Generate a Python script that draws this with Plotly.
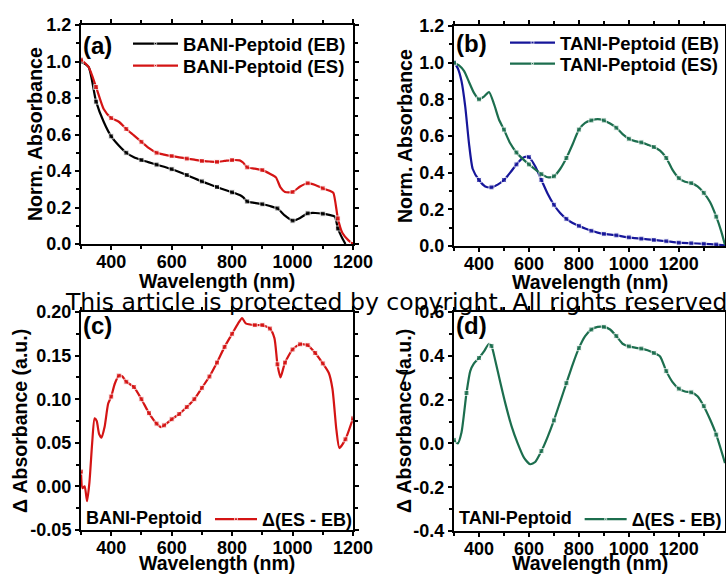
import plotly.graph_objects as go

# ---------------- data ----------------
# Panel (a): BANI-Peptoid normalized absorbance
a_eb_x = [300, 325, 350, 375, 400, 425, 450, 475, 500, 525, 550, 575, 600, 625, 650, 675, 700, 725, 750, 775,
          800, 825, 837, 850, 875, 900, 925, 950, 975, 1000, 1025, 1050, 1075, 1100, 1125, 1140, 1150, 1165, 1175]
a_eb_y = [1.00, 0.97, 0.78, 0.67, 0.59, 0.54, 0.50, 0.475, 0.46, 0.447, 0.435, 0.423, 0.41, 0.395, 0.378, 0.36,
          0.343, 0.327, 0.312, 0.297, 0.283, 0.268, 0.255, 0.233, 0.225, 0.218, 0.208, 0.195, 0.155, 0.128, 0.143,
          0.168, 0.17, 0.166, 0.158, 0.15, 0.085, 0.03, 0.0]
a_es_x = [300, 325, 350, 375, 400, 425, 450, 475, 500, 525, 550, 575, 600, 625, 650, 675, 700, 725, 750, 775,
          800, 825, 837, 850, 875, 900, 925, 945, 960, 975, 1000, 1025, 1050, 1075, 1100, 1125, 1135, 1150, 1165,
          1185, 1200]
a_es_y = [1.01, 0.97, 0.86, 0.74, 0.69, 0.67, 0.63, 0.595, 0.56, 0.525, 0.50, 0.49, 0.482, 0.475, 0.468, 0.462,
          0.455, 0.452, 0.45, 0.455, 0.46, 0.458, 0.445, 0.42, 0.413, 0.405, 0.385, 0.365, 0.31, 0.285, 0.285, 0.315,
          0.333, 0.323, 0.305, 0.29, 0.28, 0.14, 0.06, 0.02, 0.0]

# Panel (b): TANI-Peptoid normalized absorbance
b_eb_x = [300, 315, 330, 345, 360, 375, 400, 425, 450, 475, 500, 525, 550, 575, 590, 600, 625, 650, 675, 700,
          725, 750, 775, 800, 825, 850, 875, 900, 950, 1000, 1050, 1100, 1150, 1200, 1250, 1300, 1350, 1385]
b_eb_y = [1.0, 0.97, 0.9, 0.76, 0.56, 0.42, 0.36, 0.325, 0.32, 0.335, 0.36, 0.40, 0.445, 0.48, 0.487, 0.485,
          0.435, 0.36, 0.285, 0.225, 0.18, 0.148, 0.125, 0.11, 0.095, 0.083, 0.073, 0.066, 0.058, 0.047, 0.04,
          0.033, 0.026, 0.018, 0.015, 0.012, 0.008, 0.004]
b_es_x = [300, 320, 340, 360, 380, 400, 420, 440, 460, 480, 500, 525, 550, 575, 600, 625, 650, 675, 700, 725,
          750, 775, 800, 825, 850, 875, 900, 925, 950, 975, 1000, 1025, 1050, 1075, 1100, 1125, 1150, 1175, 1200,
          1225, 1250, 1275, 1300, 1325, 1350, 1370, 1385]
b_es_y = [1.0, 0.985, 0.955, 0.895, 0.835, 0.80, 0.815, 0.84, 0.775, 0.69, 0.635, 0.56, 0.51, 0.475, 0.445,
          0.418, 0.392, 0.375, 0.38, 0.42, 0.48, 0.555, 0.635, 0.672, 0.685, 0.692, 0.685, 0.668, 0.645, 0.61,
          0.585, 0.572, 0.565, 0.553, 0.54, 0.52, 0.48, 0.415, 0.37, 0.35, 0.343, 0.325, 0.29, 0.24, 0.16, 0.08,
          0.005]

# Panel (c): BANI-Peptoid difference spectrum
c_x = [300, 305, 312, 320, 328, 337, 345, 352, 360, 368, 378, 390, 400, 412, 425, 437, 450, 475, 500, 525, 550,
       565, 575, 600, 625, 650, 675, 700, 725, 750, 775, 800, 820, 833, 845, 875, 900, 925, 940, 950, 960, 975,
       1000, 1025, 1050, 1075, 1100, 1120, 1132, 1145, 1155, 1175, 1200]
c_y = [0.017, -0.002, 0.0, -0.017, 0.005, 0.05, 0.078, 0.075, 0.06, 0.056, 0.068, 0.095, 0.103, 0.118, 0.127,
       0.126, 0.12, 0.114, 0.1, 0.084, 0.072, 0.068, 0.07, 0.077, 0.083, 0.091, 0.1, 0.113, 0.126, 0.142, 0.16,
       0.175, 0.187, 0.193, 0.187, 0.185, 0.185, 0.181, 0.17, 0.14, 0.125, 0.142, 0.157, 0.163, 0.162, 0.153,
       0.141, 0.13, 0.112, 0.065, 0.044, 0.054, 0.078]

# Panel (d): TANI-Peptoid difference spectrum
d_x = [300, 315, 330, 350, 365, 380, 400, 420, 440, 450, 465, 485, 505, 530, 555, 580, 605, 625, 650, 675, 700,
       725, 750, 775, 800, 825, 850, 875, 900, 925, 950, 975, 1000, 1025, 1050, 1075, 1100, 1125, 1150, 1175,
       1200, 1225, 1250, 1275, 1300, 1325, 1350, 1385]
d_y = [0.015, 0.0, 0.05, 0.23, 0.33, 0.365, 0.39, 0.42, 0.455, 0.445, 0.38, 0.28, 0.185, 0.08, 0.0, -0.065,
       -0.095, -0.085, -0.035, 0.03, 0.105, 0.19, 0.275, 0.36, 0.435, 0.49, 0.52, 0.532, 0.532, 0.52, 0.49,
       0.455, 0.443, 0.437, 0.433, 0.425, 0.413, 0.397, 0.33, 0.28, 0.25, 0.237, 0.233, 0.215, 0.17, 0.11,
       0.04, -0.09]

x_ticks = [400, 600, 800, 1000, 1200]
x_ticklabels = ["400", "600", "800", "1000", "1200"]
ab_yticks = [0.0, 0.2, 0.4, 0.6, 0.8, 1.0, 1.2]
ab_yticklabels = ["0.0", "0.2", "0.4", "0.6", "0.8", "1.0", "1.2"]
c_yticks = [-0.05, 0.0, 0.05, 0.10, 0.15, 0.20]
c_yticklabels = ["-0.05", "0.00", "0.05", "0.10", "0.15", "0.20"]
d_yticks = [-0.4, -0.2, 0.0, 0.2, 0.4, 0.6]
d_yticklabels = ["-0.4", "-0.2", "0.0", "0.2", "0.4", "0.6"]

# ---------------- styling helpers ----------------
FW, H = 760, 576          # figure canvas (right part beyond the 726-px window is clipped, as in the source)
FONT = "Liberation Sans"
BLACK = "#000000"
RED = "#d41414"
BLUE = "#16169a"
GREEN = "#1c6e4e"


def fx(px):
    return px / FW


def fy(py):
    return 1 - py / H


def dx(l, r):
    return [fx(l), fx(r)]


def dy(top, bottom):
    return [fy(bottom), fy(top)]


def msizes(xs, step):
    return [5 if (x % step == 0) else 0 for x in xs]


fig = go.Figure()


def add(xs, ys, name, color, xa, ya, leg, step):
    fig.add_trace(go.Scatter(
        x=xs, y=ys, name=name, mode="lines+markers",
        line=dict(color=color, width=2.2, shape="spline", smoothing=0.6),
        marker=dict(symbol="square", size=msizes(xs, step), color=color),
        xaxis=xa, yaxis=ya, legend=leg, showlegend=True))


add(a_eb_x, a_eb_y, "BANI-Peptoid (EB)", BLACK, "x", "y", "legend", 50)
add(a_es_x, a_es_y, "BANI-Peptoid (ES)", RED, "x", "y", "legend5", 50)
add(b_eb_x, b_eb_y, "TANI-Peptoid (EB)", BLUE, "x2", "y2", "legend2", 50)
add(b_es_x, b_es_y, "TANI-Peptoid (ES)", GREEN, "x2", "y2", "legend6", 50)
add(c_x, c_y, "Δ(ES - EB)", RED, "x3", "y3", "legend3", 25)
add(d_x, d_y, "Δ(ES - EB)", GREEN, "x4", "y4", "legend4", 50)

tickfont = dict(family=FONT, size=18, color="black", weight="bold")
titlefont = dict(family=FONT, size=19.5, color="black", weight="bold")


def xaxis(dom, rng, anchor):
    return dict(domain=dom, range=rng, anchor=anchor, showgrid=False, zeroline=False, automargin=False,
                showline=True, linecolor="black", linewidth=2, mirror="allticks",
                ticks="outside", ticklen=4, tickwidth=2, tickcolor="black",
                tickvals=x_ticks, ticktext=x_ticklabels, tickfont=tickfont, ticklabelstandoff=-4,
                minor=dict(dtick=100, tick0=300, ticks="outside", ticklen=3, tickwidth=1.5, tickcolor="black"))


def yaxis(dom, rng, anchor, tv, tt, minor_dt):
    return dict(domain=dom, range=rng, anchor=anchor, showgrid=False, zeroline=False, automargin=False,
                showline=True, linecolor="black", linewidth=2, mirror="allticks",
                ticks="outside", ticklen=4, tickwidth=2, tickcolor="black",
                tickvals=tv, ticktext=tt, tickfont=tickfont,
                minor=dict(dtick=minor_dt, tick0=0, ticks="outside", ticklen=3, tickwidth=1.5, tickcolor="black"))


legfont = dict(family=FONT, size=18.5, color="black", weight="bold")
legfont2 = dict(family=FONT, size=18, color="black", weight="bold")


def leg(xp, top, font, iw=45, title=None):
    d = dict(x=fx(xp), y=fy(top), xanchor="left", yanchor="top", bgcolor="rgba(0,0,0,0)",
             font=font, itemwidth=iw, orientation="h")
    if title:
        d["title"] = dict(text=title, side="left", font=font)
    return d


fig.update_layout(
    width=FW, height=H, margin=dict(l=0, r=0, t=0, b=0, autoexpand=False),
    paper_bgcolor="white", plot_bgcolor="white",
    font=dict(family=FONT, color="black"),
    xaxis=xaxis(dx(81, 353), [300, 1200], "y"),
    yaxis=yaxis(dy(25, 244), [0, 1.2], "x", ab_yticks, ab_yticklabels, 0.1),
    xaxis2=xaxis(dx(454, 725), [300, 1385], "y2"),
    yaxis2=yaxis(dy(26, 246), [0, 1.2], "x2", ab_yticks, ab_yticklabels, 0.1),
    xaxis3=xaxis(dx(81, 353), [300, 1200], "y3"),
    yaxis3=yaxis(dy(312, 530), [-0.05, 0.2], "x3", c_yticks, c_yticklabels, 0.025),
    xaxis4=xaxis(dx(454, 725), [300, 1385], "y4"),
    yaxis4=yaxis(dy(312, 531), [-0.4, 0.6], "x4", d_yticks, d_yticklabels, 0.1),
    legend=leg(128, 25, legfont),
    legend5=leg(128, 47, legfont),
    legend2=leg(505, 24, legfont),
    legend6=leg(505, 45, legfont),
    legend3=leg(84, 501, legfont2, iw=42, title="BANI-Peptoid"),
    legend4=leg(457, 501, legfont2, iw=42, title="TANI-Peptoid"),
)

# axis titles
for txt, px, py, ang in [
    ("Wavelength (nm)", 217, 281, 0), ("Wavelength (nm)", 590, 282, 0),
    ("Wavelength (nm)", 217, 563, 0), ("Wavelength (nm)", 590, 563, 0),
    ("Norm. Absorbance", 35, 134, -90), ("Norm. Absorbance", 405, 136, -90),
    ("Δ Absorbance (a.u.)", 20, 421, -90), ("Δ Absorbance (a.u.)", 404, 421, -90),
]:
    fig.add_annotation(text=txt, x=fx(px), y=fy(py), xref="paper", yref="paper",
                       xanchor="center", yanchor="middle", textangle=ang, showarrow=False, font=titlefont)

labfont = dict(family=FONT, size=24, color="black", weight="bold")
for txt, px, py in [("(a)", 81, 45), ("(b)", 454, 44), ("(c)", 81, 325), ("(d)", 454, 325)]:
    fig.add_annotation(text=txt, x=fx(px), y=fy(py), xref="paper", yref="paper",
                       xanchor="left", yanchor="middle", showarrow=False, font=labfont)

# watermark overlay
fig.add_annotation(text="This article is protected by copyright. All rights reserved.",
                   x=fx(63), y=fy(302), xref="paper", yref="paper", xanchor="left", yanchor="middle",
                   showarrow=False, font=dict(family="DejaVu Sans", size=23.5, color="black"))
fig.add_annotation(text="7", x=fx(403), y=fy(376), xref="paper", yref="paper",
                   showarrow=False, font=dict(family="DejaVu Sans", size=18, color="black"))

fig.write_html("out.html", config={"displayModeBar": False},
               post_script="document.body.style.margin='0';document.body.style.overflow='hidden';")
